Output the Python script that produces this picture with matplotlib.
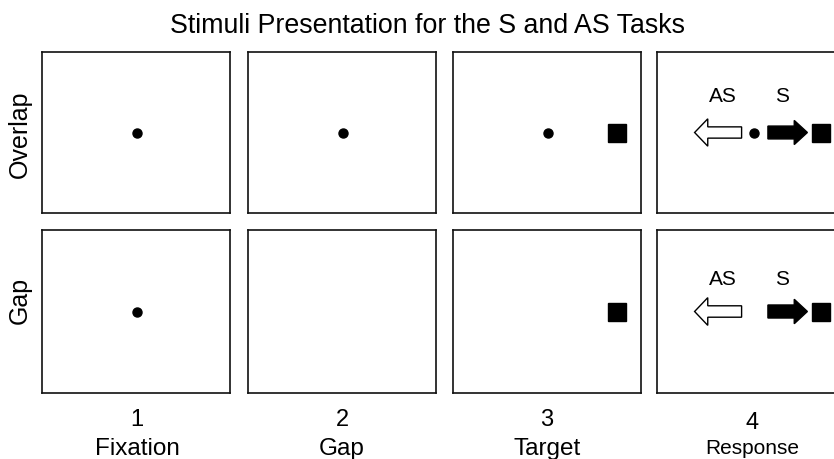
import matplotlib.pyplot as plt
from matplotlib.patches import FancyArrow

plt.rcParams['font.family'] = ['Liberation Sans', 'DejaVu Sans']

# panels: columns and rows
step_numbers = ["1", "2", "3", "4"]
step_names = ["Fixation", "Gap", "Target", "Response"]
row_names = ["Overlap", "Gap"]

# what is shown in each panel (x position in panel, 0..1)
fixation_dot = [[0.505, 0.505, 0.505, 0.516],   # Overlap
                [0.505, None, None, None]]      # Gap
target_square = [[None, None, 0.87, 0.875],
                 [None, None, 0.87, 0.875]]
# response arrows (start x, end x)
as_arrow = [0.45, 0.20]
s_arrow = [0.59, 0.80]
label_y = [0.73, 0.70]

fig = plt.figure(figsize=(8.34, 4.6), dpi=100)

col_left = [42, 248, 453, 657]
row_top = [53, 231]
row_h = [161, 163]
W, H = 834, 460

for r in range(2):
    for c in range(4):
        ax = fig.add_axes([col_left[c] / W, 1 - (row_top[r] + row_h[r]) / H, 188 / W, row_h[r] / H])
        ax.set_xlim(0, 1)
        ax.set_ylim(0, 1)
        ax.set_xticks([])
        ax.set_yticks([])
        for s in ax.spines.values():
            s.set_linewidth(1.2)
            s.set_color("#111111")
        if fixation_dot[r][c] is not None:
            ax.plot(fixation_dot[r][c], 0.5, "o", color="black", markersize=6.5)
        if target_square[r][c] is not None:
            ax.plot(target_square[r][c], 0.5, "s", color="black", markersize=13)
        if c == 3:
            ax.add_patch(FancyArrow(as_arrow[0], 0.5, as_arrow[1] - as_arrow[0], 0,
                                    width=0.07, head_width=0.17, head_length=0.07,
                                    length_includes_head=True, facecolor="white",
                                    edgecolor="black", linewidth=1))
            ax.add_patch(FancyArrow(s_arrow[0], 0.5, s_arrow[1] - s_arrow[0], 0,
                                    width=0.08, head_width=0.15, head_length=0.07,
                                    length_includes_head=True, facecolor="black",
                                    edgecolor="black", linewidth=1))
            ax.text(0.35, label_y[r], "AS", ha="center", va="center", fontsize=15)
            ax.text(0.665, label_y[r], "S", ha="center", va="center", fontsize=15)

# row labels
fig.text(20 / W, 1 - 134 / H, row_names[0], rotation=90, ha="center", va="center", fontsize=18)
fig.text(20 / W, 1 - 300 / H, row_names[1], rotation=90, ha="center", va="center", fontsize=18)

# column labels
col_center = [137, 342, 547, 752]
for c in range(4):
    dy = 3 if c == 3 else 0
    fig.text(col_center[c] / W, 1 - (420 + dy) / H, step_numbers[c], ha="center", va="center", fontsize=17)
    fig.text(col_center[c] / W, 1 - 449 / H, step_names[c], ha="center", va="center",
             fontsize=15 if c == 3 else 17.5)

fig.text(428 / W, 1 - 26 / H, "Stimuli Presentation for the S and AS Tasks", ha="center", va="center", fontsize=19.3)

plt.savefig("out.png", dpi=100)
